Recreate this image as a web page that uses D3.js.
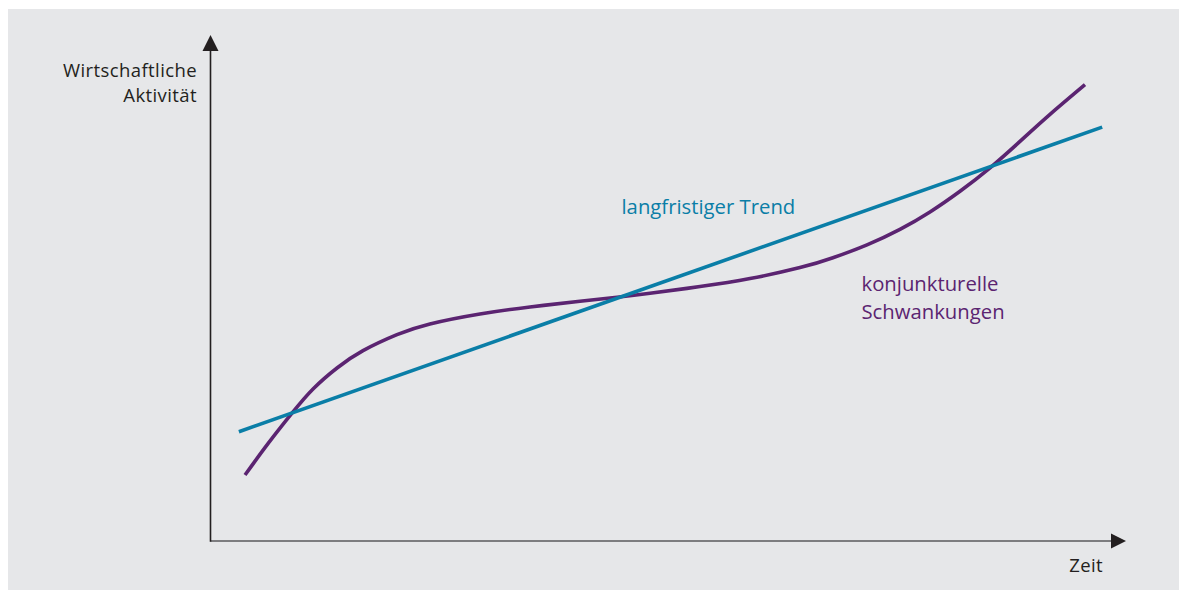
<!DOCTYPE html>
<html>
<head>
<meta charset="utf-8">
<script src="https://cdn.jsdelivr.net/npm/d3@7"></script>
<style>
  html, body { margin: 0; padding: 0; background: #ffffff; }
  svg { display: block; }
  text { font-family: "Open Sans", "Noto Sans", sans-serif; }
</style>
</head>
<body>
<svg id="chart" width="1179" height="590"></svg>
<script>
// Data (abstract units: time 0-100, activity 0-100)
const trendX = [3.1, 97.4];
const trendY = [21.6, 81.8];

const cycleX = [3.77, 6.28, 8.90, 11.20, 13.82, 16.66, 20.37, 23.97, 29.43, 34.90, 40.36, 44.40, 48.01, 53.47, 58.93, 64.39, 67.99, 71.71, 75.31, 78.59, 81.87, 85.15, 88.42, 91.70, 95.52];
const cycleY = [13.04, 19.23, 25.26, 30.04, 34.19, 37.61, 40.77, 42.89, 44.86, 46.25, 47.37, 48.16, 48.95, 50.28, 51.86, 54.03, 55.99, 58.54, 61.60, 65.04, 69.13, 73.75, 78.97, 84.31, 90.18];

const yAxisLabel = ["Wirtschaftliche", "Aktivität"];
const xAxisLabel = "Zeit";
const trendLabel = ["langfristiger Trend"];
const cycleLabel = ["konjunkturelle", "Schwankungen"];

const svg = d3.select("#chart");
const W = 1179, H = 590;

svg.append("rect").attr("x", 8).attr("y", 9).attr("width", W - 8).attr("height", H - 9).attr("fill", "#e6e7e9");

const x = d3.scaleLinear().domain([0, 100]).range([210.5, 1126]);
const y = d3.scaleLinear().domain([0, 100]).range([541, 35]);

// axes
const g = svg.append("g");
g.append("line").attr("x1", x(0)).attr("x2", 1112).attr("y1", y(0)).attr("y2", y(0))
  .attr("stroke", "#5a5a5d").attr("stroke-width", 1.6);
g.append("path")
  .attr("d", `M${x(100)},${y(0)} L1111,${y(0) - 7.5} L1111,${y(0) + 7.5} Z`)
  .attr("fill", "#231f20");
g.append("line").attr("x1", x(0)).attr("x2", x(0)).attr("y1", y(0) + 0.8).attr("y2", 50)
  .attr("stroke", "#231f20").attr("stroke-width", 1.6);
g.append("path")
  .attr("d", `M${x(0)},${y(100)} L${x(0) - 8},51 L${x(0) + 8},51 Z`)
  .attr("fill", "#231f20");

const trend = trendX.map((d, i) => [d, trendY[i]]);
const cycle = cycleX.map((d, i) => [d, cycleY[i]]);

const line = d3.line().x(d => x(d[0])).y(d => y(d[1]));
const curve = d3.line().x(d => x(d[0])).y(d => y(d[1])).curve(d3.curveNatural);

svg.append("path").attr("d", curve(cycle)).attr("fill", "none")
  .attr("stroke", "#5b2471").attr("stroke-width", 3.6).attr("stroke-linecap", "butt");
svg.append("path").attr("d", line(trend)).attr("fill", "none")
  .attr("stroke", "#0a7ea7").attr("stroke-width", 3.6);

// labels
const fs = 18.5;
svg.append("text").attr("text-anchor", "end").attr("font-size", fs).attr("fill", "#231f20")
  .attr("letter-spacing", 0.4)
  .selectAll("tspan").data(yAxisLabel).join("tspan")
  .attr("x", 197).attr("y", (d, i) => 76.5 + i * 25.5).text(d => d);

svg.append("text").attr("x", 1103).attr("y", 572).attr("text-anchor", "end").attr("font-size", fs)
  .attr("letter-spacing", 0.4).attr("fill", "#231f20").text(xAxisLabel);

svg.append("text").attr("x", 621.5).attr("y", 213.5).attr("font-size", 20.3).attr("fill", "#0a7ea7")
  .text(trendLabel[0]);

svg.append("text").attr("font-size", 20.3).attr("fill", "#5b2471")
  .selectAll("tspan").data(cycleLabel).join("tspan")
  .attr("x", 861.5).attr("y", (d, i) => 291 + i * 27.5).text(d => d);
</script>
</body>
</html>
